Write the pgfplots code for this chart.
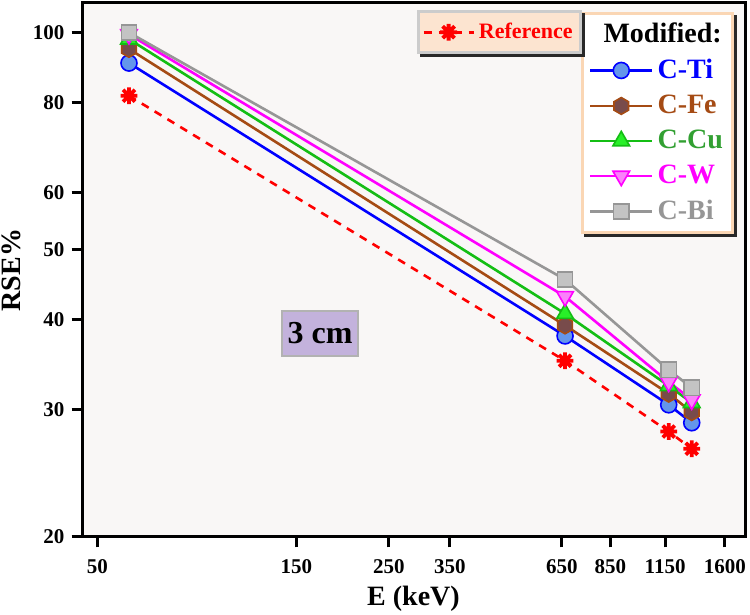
\documentclass[border=0pt]{standalone}
\usepackage{fontspec}
\setmainfont{Liberation Serif}
\usepackage{pgfplots}
\pgfplotsset{compat=1.18}

\definecolor{tiline}{RGB}{0,0,255}
\definecolor{tifill}{RGB}{100,150,235}
\definecolor{feline}{RGB}{165,75,20}
\definecolor{fefill}{RGB}{120,75,75}
\definecolor{culine}{RGB}{20,190,20}
\definecolor{cufill}{RGB}{40,240,40}
\definecolor{cutext}{RGB}{50,160,50}
\definecolor{wline}{RGB}{255,0,255}
\definecolor{wfill}{RGB}{250,130,250}
\definecolor{biline}{RGB}{150,150,150}
\definecolor{bifill}{RGB}{195,195,195}
\definecolor{peach}{RGB}{252,228,208}
\definecolor{peachborder}{RGB}{250,214,180}
\definecolor{lav}{RGB}{195,178,220}
\definecolor{bgc}{RGB}{249,247,246}
\definecolor{shad}{RGB}{40,40,40}

\pgfdeclareplotmark{hexagon}{%
 \pgfpathmoveto{\pgfqpointpolar{90}{\pgfplotmarksize}}%
 \pgfpathlineto{\pgfqpointpolar{150}{\pgfplotmarksize}}%
 \pgfpathlineto{\pgfqpointpolar{210}{\pgfplotmarksize}}%
 \pgfpathlineto{\pgfqpointpolar{270}{\pgfplotmarksize}}%
 \pgfpathlineto{\pgfqpointpolar{330}{\pgfplotmarksize}}%
 \pgfpathlineto{\pgfqpointpolar{30}{\pgfplotmarksize}}%
 \pgfpathclose
 \pgfusepathqfillstroke}
\pgfdeclareplotmark{star8}{%
 \pgfpathmoveto{\pgfqpointpolar{0}{\pgfplotmarksize}}\pgfpathlineto{\pgfqpointpolar{180}{\pgfplotmarksize}}%
 \pgfpathmoveto{\pgfqpointpolar{45}{\pgfplotmarksize}}\pgfpathlineto{\pgfqpointpolar{225}{\pgfplotmarksize}}%
 \pgfpathmoveto{\pgfqpointpolar{90}{\pgfplotmarksize}}\pgfpathlineto{\pgfqpointpolar{270}{\pgfplotmarksize}}%
 \pgfpathmoveto{\pgfqpointpolar{135}{\pgfplotmarksize}}\pgfpathlineto{\pgfqpointpolar{315}{\pgfplotmarksize}}%
 \pgfusepathqstroke}

\pgfplotstableread{
E Ref Ti Fe Cu W Bi
59.5 81.8 90.8 95.0 98.0 99.5 100.1
661.7 35.1 38.0 39.3 40.8 43.1 45.5
1173 28.0 30.5 31.6 32.4 32.8 34.1
1332 26.5 28.8 29.8 30.7 31.0 32.2
}\datatable

\begin{document}
\begin{tikzpicture}
\begin{axis}[
  scale only axis, width=331.5pt, height=267pt,
  xmode=log, ymode=log,
  xmin=45.9, xmax=1788, ymin=20, ymax=110,
  xtick={50,150,250,350,650,850,1150,1600},
  xticklabels={50,150,250,350,650,850,1150,1600},
  ytick={20,30,40,50,60,80,100},
  yticklabels={20,30,40,50,60,80,100},
  minor tick length=0pt,
  tick align=outside, xtick pos=bottom, ytick pos=left,
  major tick length=5.25pt,
  major tick style={line width=1.5pt, black},
  axis line style={line width=1.5pt},
  ticklabel style={font=\fontsize{10.5}{12}\selectfont\bfseries},
  xticklabel style={yshift=-2.5pt},
  axis background/.style={fill=bgc},
  xlabel={E (keV)}, ylabel={RSE\%},
  label style={font=\fontsize{14}{16}\selectfont\bfseries},
  xlabel style={at={(rel axis cs:0.5,0)}, yshift=-31pt, anchor=center},
  ylabel style={at={(rel axis cs:0,0.5)}, yshift=35.5pt, anchor=center},
  legend style={name=modleg, at={(rel axis cs:0.984,0.984)}, anchor=north east,
    fill=white, draw=peachborder, line width=1.5pt,
    font=\fontsize{14}{16}\selectfont\bfseries, row sep=2.75pt,
    inner xsep=3pt, inner ysep=3pt},
  legend cell align=left,
  legend image code/.code={\draw[mark repeat=2,mark phase=2] plot coordinates {(0pt,0pt) (15.5pt,0pt) (31pt,0pt)};},
]
\coordinate (bl) at (rel axis cs:0,0);
\coordinate (tr) at (rel axis cs:1,1);
\addlegendimage{empty legend}
\addlegendentry{\hspace*{-27pt}Modified:}
\addplot[tiline, line width=1.3pt, mark=*, mark size=4pt, mark options={fill=tifill, draw=tiline, line width=0.8pt}] table[x=E,y=Ti] {\datatable};
\addlegendentry{\textcolor{tiline}{C-Ti}}
\addplot[feline, line width=1.3pt, mark=hexagon, mark size=4.2pt, mark options={fill=fefill, draw=feline, line width=0.8pt}] table[x=E,y=Fe] {\datatable};
\addlegendentry{\textcolor{feline}{C-Fe}}
\addplot[culine, line width=1.3pt, mark=triangle*, mark size=4.8pt, mark options={fill=cufill, draw=culine, line width=0.8pt}] table[x=E,y=Cu] {\datatable};
\addlegendentry{\textcolor{cutext}{C-Cu}}
\addplot[wline, line width=1.3pt, mark=triangle*, mark size=4.8pt, mark options={fill=wfill, draw=wline, line width=0.8pt, rotate=180}] table[x=E,y=W] {\datatable};
\addlegendentry{\textcolor{wline}{C-W}}
\addplot[biline, line width=1.3pt, mark=square*, mark size=3.8pt, mark options={fill=bifill, draw=biline, line width=0.8pt}] table[x=E,y=Bi] {\datatable};
\addlegendentry{\textcolor{biline}{C-Bi}}
\node[fill=lav, draw=gray!60, line width=0.6pt, font=\fontsize{16}{18}\selectfont\bfseries, minimum width=38pt, minimum height=22.5pt, inner sep=1pt] at (axis cs:171,38.3) {3 cm};
\end{axis}
\begin{axis}[
  scale only axis, width=331.5pt, height=267pt,
  xmode=log, ymode=log,
  xmin=45.9, xmax=1788, ymin=20, ymax=110,
  hide axis,
  legend style={name=refleg, at={(rel axis cs:0.505,0.986)}, anchor=north west,
    fill=peach, draw=gray!40, line width=1.5pt,
    font=\fontsize{11}{13}\selectfont\bfseries, inner xsep=2pt, inner ysep=3.5pt},
  legend image code/.code={\draw[mark repeat=2,mark phase=2] plot coordinates {(0pt,0pt) (12.5pt,0pt) (25pt,0pt)};},
]
\addplot[red, line width=1.3pt, dash pattern=on 4pt off 3.5pt, mark=star8, mark size=4.2pt, mark options={solid, line width=1.9pt}] table[x=E,y=Ref] {\datatable};
\addlegendentry{\textcolor{red}{Reference}}
\end{axis}
\fill[shad] ([yshift=-1.5pt]modleg.north east) rectangle ([xshift=1.5pt,yshift=-1.5pt]modleg.south east);
\fill[shad] ([xshift=1.5pt]modleg.south west) rectangle ([xshift=1.5pt,yshift=-1.5pt]modleg.south east);
\fill[shad] ([yshift=-1.5pt]refleg.north east) rectangle ([xshift=1.5pt,yshift=-1.5pt]refleg.south east);
\fill[shad] ([xshift=1.5pt]refleg.south west) rectangle ([xshift=1.5pt,yshift=-1.5pt]refleg.south east);
\pgfresetboundingbox
\path ([xshift=-41pt,yshift=-39pt]bl) rectangle ([xshift=2.5pt,yshift=1.5pt]tr);
\end{tikzpicture}
\end{document}
